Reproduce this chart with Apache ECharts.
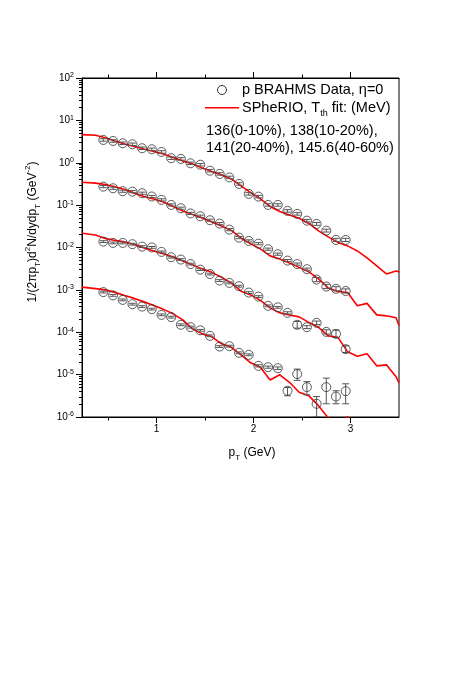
<!DOCTYPE html>
<html><head><meta charset="utf-8">
<script src="https://cdn.jsdelivr.net/npm/echarts@6/dist/echarts.min.js"></script>
<style>html,body{margin:0;padding:0;background:#fff}#c{width:463px;height:674px}</style>
</head><body><div id="c"></div>
<script>
// ---- data ----
const dataPT = [0.45,0.55,0.65,0.75,0.85,0.95,1.05,1.15,1.25,1.35,1.45,1.55,1.65,1.75,1.85,1.95,2.05,2.15,2.25,2.35,2.45,2.55,2.65,2.75,2.85,2.95];
const data0_10 = [3.45,3.27,2.88,2.73,2.20,2.08,1.80,1.28,1.23,0.97,0.90,0.65,0.545,0.45,0.316,0.184,0.159,0.101,0.101,0.073,0.062,0.043,0.036,0.025,0.0151,0.0151];
const data10_20 = [0.273,0.250,0.213,0.208,0.191,0.160,0.133,0.101,0.0845,0.0637,0.0547,0.044,0.0366,0.0264,0.0171,0.0143,0.0123,0.00912,0.00695,0.00491,0.00406,0.00308,0.00175,0.0012,0.00106,0.00094];
const data20_40 = [0.01377,0.01282,0.01282,0.01197,0.0105,0.01005,0.00787,0.0059,0.00519,0.00406,0.00301,0.00236,0.00166,0.00146,0.00122,0.000863,0.000695,0.00042,0.000387,0.000287,0.00015,0.000132,0.000167,0.000102,0.0000916,0.0000399];
const data40_60 = [0.000887,0.000741,0.00058,0.00046,0.000404,0.000351,0.000257,0.000227,0.00015,0.000132,0.000111,0.0000823,0.000046,0.000047,0.0000327,0.0000293,0.0000161,0.000015,0.0000142,0.00000415,0.0000103,0.00000507,0.00000205,0.00000507,0.00000304,0.00000408];

// error bars as multiplicative factors (value*up, value/down)
const err0_10 = [1.07,1.07,1.07,1.07,1.07,1.07,1.07,1.07,1.07,1.07,1.07,1.07,1.07,1.07,1.07,1.07,1.07,1.07,1.07,1.07,1.07,1.07,1.08,1.08,1.09,1.09];
const err10_20 = [1.06,1.06,1.06,1.06,1.06,1.06,1.06,1.06,1.06,1.06,1.06,1.06,1.06,1.06,1.06,1.06,1.06,1.06,1.06,1.06,1.06,1.06,1.12,1.12,1.12,1.12];
const err20_40 = [1.05,1.05,1.05,1.05,1.05,1.05,1.05,1.05,1.05,1.05,1.05,1.05,1.05,1.05,1.05,1.05,1.05,1.05,1.05,1.06,1.2,1.08,1.1,1.12,1.22,1.2];
const err40_60Up = [1.05,1.05,1.05,1.05,1.05,1.05,1.05,1.05,1.05,1.05,1.05,1.05,1.05,1.05,1.05,1.05,1.06,1.06,1.07,1.2,1.31,1.35,1.48,1.63,1.37,1.49];
const err40_60Down = [1.05,1.05,1.05,1.05,1.05,1.05,1.05,1.05,1.05,1.05,1.05,1.05,1.05,1.05,1.05,1.05,1.06,1.06,1.07,1.31,1.41,1.52,2.05,2.47,1.48,1.99];

// SPheRIO curves
const linePT = [0.23,0.37,0.47,0.57,0.67,0.77,0.87,0.97,1.07,1.17,1.27,1.37,1.47,1.57,1.67,1.77,1.87,1.97,2.07,2.17,2.27,2.37,2.47,2.57,2.67,2.77,2.87,2.97,3.07,3.17,3.27,3.37,3.47,3.5];
const model0_10 = [4.6,4.45,3.9,3.27,2.77,2.42,2.11,1.85,1.61,1.33,1.10,0.94,0.75,0.62,0.515,0.415,0.284,0.197,0.14,0.093,0.071,0.0587,0.049,0.037,0.0246,0.0178,0.0132,0.0109,0.0083,0.0057,0.00368,0.00238,0.0028,0.00266];
const model10_20 = [0.347,0.330,0.308,0.272,0.234,0.191,0.160,0.140,0.119,0.093,0.073,0.060,0.0499,0.0402,0.0323,0.0253,0.0168,0.0122,0.00927,0.00634,0.00538,0.00433,0.0034,0.00266,0.00182,0.00111,0.00092,0.00087,0.00042,0.00048,0.000257,0.000244,0.000219,0.000142];
const model20_40 = [0.0217,0.0198,0.0164,0.0147,0.01355,0.01183,0.0098,0.0083,0.00714,0.00594,0.00483,0.00389,0.00313,0.00259,0.00197,0.00146,0.00093,0.00076,0.000565,0.000376,0.000287,0.000255,0.000231,0.000171,0.000131,0.0000823,0.0000759,0.0000345,0.000027,0.000031,0.0000161,0.000017,0.0000089,0.0000064];
const model40_60 = [0.00116,0.00107,0.001,0.000873,0.000741,0.00063,0.000521,0.00043,0.000347,0.000272,0.000196,0.00012,0.0000916,0.000078,0.0000532,0.000044,0.0000293,0.000019,0.0000149,0.0000075,0.0000099,0.0000066,0.00000383,0.00000316,0.00000185,0.00000095,0.0000006,0.00000102,0.0000005];

// ticks
const xMajorTicks = [1,2,3];
const xMinorTicks = [0.5,1.5,2.5];
const yMajorTicks = [1e-6,1e-5,1e-4,1e-3,1e-2,1e-1,1,10,100];
const yMinorTicks = [];
for (let e = -6; e < 2; e++) for (let m = 2; m <= 9; m++) yMinorTicks.push(m * Math.pow(10, e));

const FONT = "'Liberation Sans', Arial, Helvetica, sans-serif";
const X_MIN = 0.23, X_MAX = 3.5;

function xAxisDef(pos, ticks, len, labels, showLine) {
  return {
    type: 'value', position: pos, min: X_MIN, max: X_MAX,
    axisLine: { show: showLine, onZero: false, lineStyle: { color: '#000', width: 1 } },
    axisTick: { show: true, inside: false, length: len, customValues: ticks, lineStyle: { color: '#000', width: 1 } },
    axisLabel: labels ? { show: true, customValues: xMajorTicks, margin: 7, color: '#000', fontSize: 10, fontFamily: FONT } : { show: false },
    splitLine: { show: false }
  };
}

const pair = (xs, ys) => ys.map((y, i) => [xs[i], y]);

function circles(vals) {
  return { type: 'scatter', data: pair(dataPT, vals), symbol: 'circle', symbolSize: 9, z: 4,
    itemStyle: { color: 'rgba(0,0,0,0)', borderColor: '#333', borderWidth: 1 }, silent: true };
}
function model(vals) {
  return { type: 'line', data: pair(linePT, vals), showSymbol: false, symbol: 'none', clip: true, z: 2,
    lineStyle: { color: '#ff0000', width: 1.6 }, silent: true };
}
function errs(vals, up, down) {
  return {
    type: 'custom', clip: true, z: 3, silent: true,
    encode: { x: 0, y: [1, 2] },
    data: dataPT.map((x, i) => [x, vals[i] / down[i], vals[i] * up[i]]),
    renderItem(params, api) {
      const x = api.value(0), lo = api.value(1), hi = api.value(2);
      const a = api.coord([x, hi]), b = api.coord([x, lo]);
      const w = 3.5, st = { stroke: '#555', lineWidth: 1 };
      return { type: 'group', children: [
        { type: 'line', shape: { x1: a[0], y1: a[1], x2: b[0], y2: b[1] }, style: st },
        { type: 'line', shape: { x1: a[0] - w, y1: a[1], x2: a[0] + w, y2: a[1] }, style: st },
        { type: 'line', shape: { x1: b[0] - w, y1: b[1], x2: b[0] + w, y2: b[1] }, style: st }
      ]};
    }
  };
}

const chart = echarts.init(document.getElementById('c'), null, { renderer: 'canvas' });
const supRich = {
  sub: { fontSize: 9, verticalAlign: 'bottom', lineHeight: 10, fontFamily: FONT, fill: '#000' },
  sup: { fontSize: 9, verticalAlign: 'top', lineHeight: 10, fontFamily: FONT, fill: '#000' }
};
const smallRich = {
  sub: { fontSize: 8, verticalAlign: 'bottom', lineHeight: 9, fontFamily: FONT, fill: '#000' },
  sup: { fontSize: 8, verticalAlign: 'top', lineHeight: 9, fontFamily: FONT, fill: '#000' }
};

chart.setOption({
  animation: false,
  backgroundColor: '#fff',
  grid: { left: 82, right: 64, top: 78, bottom: 257, show: true, borderColor: '#000', borderWidth: 1, backgroundColor: 'transparent' },
  xAxis: [
    xAxisDef('bottom', xMajorTicks, 6, true, true),
    xAxisDef('bottom', xMinorTicks, 3.5, false, false),
    xAxisDef('top', xMajorTicks, 6, false, true),
    xAxisDef('top', xMinorTicks, 3.5, false, false)
  ],
  yAxis: [
    { type: 'log', logBase: 10, min: 1e-6, max: 100, position: 'left',
      axisLine: { show: true, onZero: false, lineStyle: { color: '#000', width: 1 } },
      axisTick: { show: true, inside: false, length: 6, customValues: yMajorTicks, lineStyle: { color: '#000' } },
      axisLabel: { show: true, customValues: yMajorTicks, margin: 8, color: '#000', fontFamily: FONT,
        formatter: v => '{b|10}{s|' + Math.round(Math.log10(v)) + '}',
        rich: { b: { fontSize: 10, lineHeight: 12, fontFamily: FONT, color: '#000' },
                s: { fontSize: 7, verticalAlign: 'top', lineHeight: 7, fontFamily: FONT, color: '#000' } } },
      splitLine: { show: false } },
    { type: 'log', logBase: 10, min: 1e-6, max: 100, position: 'left',
      axisLine: { show: false },
      axisTick: { show: true, inside: false, length: 3, customValues: yMinorTicks, lineStyle: { color: '#000' } },
      axisLabel: { show: false }, splitLine: { show: false } }
  ],
  series: [
    model(model0_10), model(model10_20), model(model20_40), model(model40_60),
    errs(data0_10, err0_10, err0_10), errs(data10_20, err10_20, err10_20),
    errs(data20_40, err20_40, err20_40), errs(data40_60, err40_60Up, err40_60Down),
    circles(data0_10), circles(data10_20), circles(data20_40), circles(data40_60)
  ],
  graphic: [
    { type: 'circle', shape: { cx: 222, cy: 90, r: 4.5 }, style: { fill: 'none', stroke: '#333', lineWidth: 1 } },
    { type: 'line', shape: { x1: 205, y1: 107.7, x2: 239, y2: 107.7 }, style: { stroke: '#ff0000', lineWidth: 1.6 } },
    { type: 'text', x: 242, y: 90, style: { text: 'p BRAHMS Data, η=0', fontSize: 14.5, fontFamily: FONT, fill: '#000', verticalAlign: 'middle', align: 'left' } },
    { type: 'text', x: 242, y: 108, style: { text: 'SPheRIO, T{sub|th} fit: (MeV)', rich: supRich, lineHeight: 20, fontSize: 14.5, fontFamily: FONT, fill: '#000', verticalAlign: 'middle', align: 'left' } },
    { type: 'text', x: 206, y: 131, style: { text: '136(0-10%), 138(10-20%),', fontSize: 14.5, fontFamily: FONT, fill: '#000', verticalAlign: 'middle', align: 'left' } },
    { type: 'text', x: 206, y: 148, style: { text: '141(20-40%), 145.6(40-60%)', fontSize: 14.5, fontFamily: FONT, fill: '#000', verticalAlign: 'middle', align: 'left' } },
    { type: 'text', x: 33, y: 232, rotation: Math.PI / 2,
      style: { text: '1/(2πp{sub|T})d{sup|2}N/dydp{sub|T} (GeV{sup|-2})', rich: smallRich, lineHeight: 18, fontSize: 12, fontFamily: FONT, fill: '#000', verticalAlign: 'middle', align: 'center' } },
    { type: 'text', x: 252, y: 453,
      style: { text: 'p{sub|T} (GeV)', rich: smallRich, lineHeight: 18, fontSize: 12, fontFamily: FONT, fill: '#000', verticalAlign: 'middle', align: 'center' } }
  ]
});
</script></body></html>
